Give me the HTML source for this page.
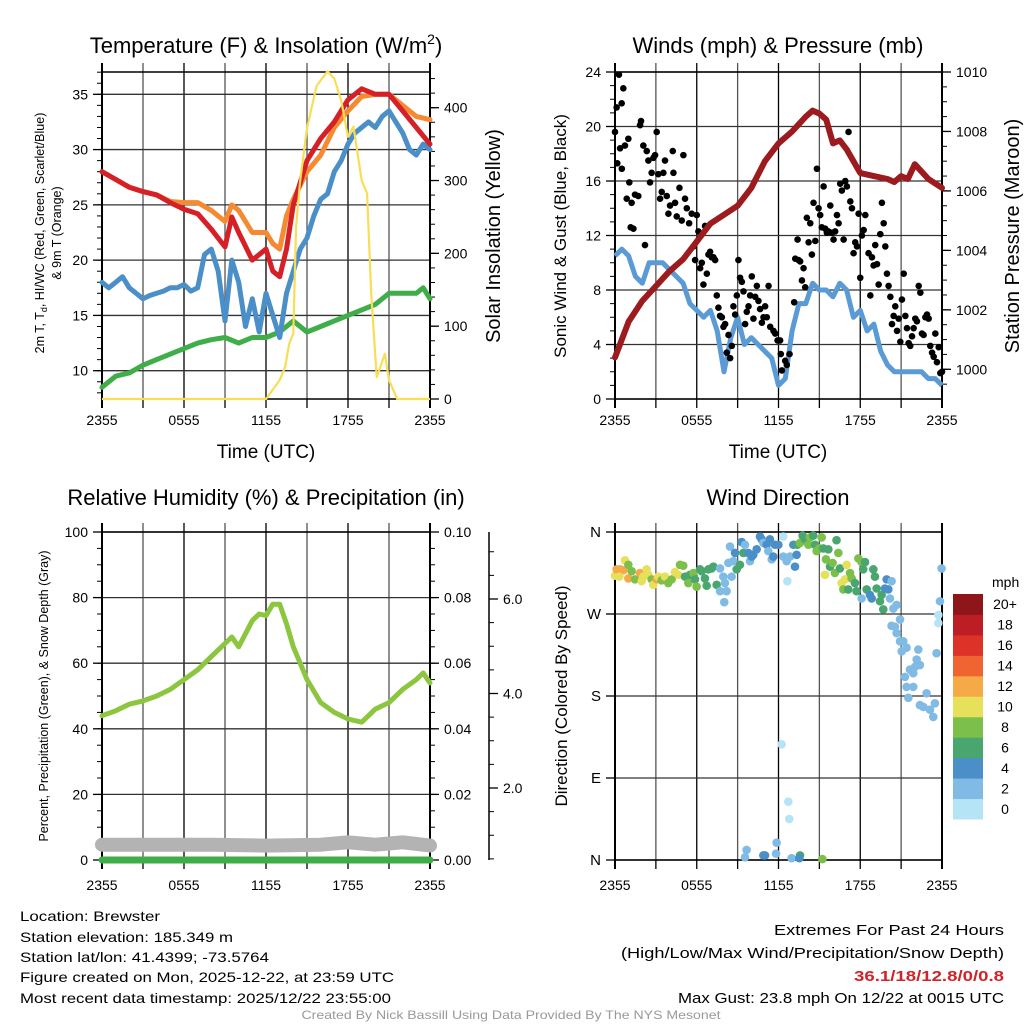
<!DOCTYPE html>
<html><head><meta charset="utf-8"><style>
html,body{margin:0;padding:0;background:#fff}
svg{display:block;font-family:"Liberation Sans",sans-serif}
</style></head><body>
<svg id="c" width="1024" height="1024" viewBox="0 0 1024 1024" xmlns="http://www.w3.org/2000/svg">
<g id="static">
<text x="266" y="53" font-size="22" text-anchor="middle">Temperature (F) &amp; Insolation (W/m<tspan dy="-9" font-size="14">2</tspan><tspan dy="9">)</tspan></text>
<text x="778" y="53" font-size="22" text-anchor="middle">Winds (mph) &amp; Pressure (mb)</text>
<text x="266" y="505" font-size="22" text-anchor="middle">Relative Humidity (%) &amp; Precipitation (in)</text>
<text x="778" y="505" font-size="22" text-anchor="middle">Wind Direction</text>
<text x="266" y="458" font-size="19" text-anchor="middle">Time (UTC)</text>
<text x="778" y="458" font-size="19" text-anchor="middle">Time (UTC)</text>
<text transform="translate(44,233) rotate(-90)" font-size="12.5" text-anchor="middle">2m T, T<tspan font-size="9" dy="3">d</tspan><tspan dy="-3">, HI/WC (Red, Green, Scarlet/Blue)</tspan></text>
<text transform="translate(61,233) rotate(-90)" font-size="12.5" text-anchor="middle">&amp; 9m T (Orange)</text>
<text transform="translate(500,236) rotate(-90)" font-size="20" text-anchor="middle">Solar Insolation (Yellow)</text>
<text transform="translate(566,236) rotate(-90)" font-size="17" text-anchor="middle">Sonic Wind &amp; Gust (Blue, Black)</text>
<text transform="translate(1019,236) rotate(-90)" font-size="20" text-anchor="middle">Station Pressure (Maroon)</text>
<text transform="translate(48,696) rotate(-90)" font-size="12.5" text-anchor="middle">Percent, Precipitation (Green), &amp; Snow Depth (Gray)</text>
<text transform="translate(567,696) rotate(-90)" font-size="17" text-anchor="middle">Direction (Colored By Speed)</text>
<g font-size="14">
<text x="20" y="921" textLength="140" lengthAdjust="spacingAndGlyphs">Location: Brewster</text>
<text x="20" y="942" textLength="213" lengthAdjust="spacingAndGlyphs">Station elevation: 185.349 m</text>
<text x="20" y="962" textLength="249" lengthAdjust="spacingAndGlyphs">Station lat/lon: 41.4399; -73.5764</text>
<text x="20" y="982" textLength="374" lengthAdjust="spacingAndGlyphs">Figure created on Mon, 2025-12-22, at 23:59 UTC</text>
<text x="20" y="1003" textLength="371" lengthAdjust="spacingAndGlyphs">Most recent data timestamp: 2025/12/22 23:55:00</text>
</g>
<g font-size="15" text-anchor="end">
<text x="1004" y="935" textLength="230" lengthAdjust="spacingAndGlyphs">Extremes For Past 24 Hours</text>
<text x="1004" y="958" textLength="383" lengthAdjust="spacingAndGlyphs">(High/Low/Max Wind/Precipitation/Snow Depth)</text>
<text x="1004" y="981" fill="#d1232a" font-weight="bold" textLength="150" lengthAdjust="spacingAndGlyphs">36.1/18/12.8/0/0.8</text>
<text x="1004" y="1003" textLength="326" lengthAdjust="spacingAndGlyphs">Max Gust: 23.8 mph On 12/22 at 0015 UTC</text>
</g>
<text x="511" y="1019" font-size="12" fill="#999" text-anchor="middle" textLength="419" lengthAdjust="spacingAndGlyphs">Created By Nick Bassill Using Data Provided By The NYS Mesonet</text>
</g>
</svg>
<script>
// ---------- DATA ----------
const hrTicks = ["2355","0555","1155","1755","2355"];
// Panel 1
const tH = [0,1,2,3,4,5,6,7,8,9,9.5,10,11,12,12.5,13,13.5,14,15,16,17,18,19,20,21,22,23,24];
const tempT = [28,27.3,26.6,26.2,25.9,25.2,24.6,24.2,22.8,21.2,23.9,22.5,20,21,19,18.5,21,25,29,31,32.5,34.5,35.5,35,35,33.5,32,30.5];
const temp9m = [28,27.3,26.6,26.2,25.9,25.3,25.2,25.2,24.5,23.5,25,24.5,22.5,22.5,21.5,21,24,25.5,28,29.5,32,33.5,34.8,35,35,34,33,32.7];
const wcH = [0,0.5,1,1.5,2,2.5,3,3.5,4,4.5,5,5.5,6,6.5,7,7.5,8,8.5,9,9.5,10,10.5,11,11.5,12,12.5,13,13.5,14,14.5,15,15.5,16,16.5,17,17.5,18,18.5,19,19.5,20,20.5,21,21.5,22,22.5,23,23.5,24];
const windChill = [18,17.5,18,18.5,17.5,17,16.5,16.8,17,17.2,17.5,17.5,17.8,17.2,17.5,20.5,21,19,14.5,20,18,14,16.5,13.5,17,15,13,17,19,21,22,24,25.5,26,28,29,30.5,31.5,32,32.5,32,33,33.5,32.5,31.5,30,29.5,30.5,30];
const tdH = [0,1,2,3,4,5,6,7,8,9,10,11,12,13,14,15,16,17,18,19,20,21,22,23,23.5,24];
const dewPoint = [8.5,9.5,9.8,10.5,11,11.5,12,12.5,12.8,13,12.5,13,13,13.5,14.5,13.5,14,14.5,15,15.5,16,17,17,17,17.5,16.5];
const solH = [0,12,13,13.4,13.7,14,14.2,14.5,15,15.7,16.5,17,17.5,18,18.4,19,19.4,19.7,20.1,20.7,21,21.6,24];
const solar = [0,0,26,44,76,90,237,300,372,430,450,440,410,360,374,300,282,145,30,62,26,0,0];
const tempTicks = [10,15,20,25,30,35];
const solTicks = [0,100,200,300,400];
// Panel 2
const pH = [0,1,2,3,4,5,6,7,8,9,10,11,12,13,14,14.5,15,15.5,16,16.5,17,18,19,20,20.5,21,21.5,22,23,24];
const pressure = [1000.4,1001.6,1002.3,1002.8,1003.3,1003.7,1004.3,1004.9,1005.2,1005.5,1006.1,1007.0,1007.6,1008.0,1008.5,1008.7,1008.6,1008.4,1007.6,1007.7,1007.4,1006.6,1006.5,1006.4,1006.3,1006.5,1006.4,1006.9,1006.4,1006.1];
const windSpeed = [10.5,11,10.5,9,8.5,10,10,10,9.5,9,8.5,7,6.5,6,6.5,5,2,4.5,6,4,4.5,4,3.5,3,1,1.5,5,7,7,8.5,8,8,7.5,8.5,8,6,6.5,5,5.5,3.5,2.5,2,2,2,2,2,1.5,1.5,1];
const gustH = [0,0.12,0.29,0.49,0.61,0.17,0.37,0.5,0.73,0.86,0.98,1.05,1.15,1.35,1.22,1.47,1.71,1.84,1.91,2.08,2.2,2.33,2.45,2.57,2.69,2.82,2.94,3.06,3.18,3.31,3.43,3.55,3.67,3.8,3.92,4.04,4.24,4.29,4.41,4.53,4.73,4.9,5.02,5.14,5.27,5.44,5.63,5.76,5.88,6,6.12,6.25,6.37,6.49,6.61,6.74,6.86,6.98,7.1,7.23,7.35,7.47,7.59,7.71,7.84,7.96,8.08,8.2,8.33,8.45,8.57,8.69,8.82,8.94,9.06,9.18,9.31,9.43,9.55,9.67,9.8,9.92,10.04,10.16,10.29,10.41,10.53,10.65,10.78,10.9,11.02,11.14,11.27,11.39,11.63,11.76,11.93,12.12,12.17,12.25,12.49,12.61,12.81,13.15,13.23,13.4,13.47,13.59,13.72,13.84,13.96,14.08,14.21,14.33,14.45,14.57,14.7,14.82,14.94,15.06,15.18,15.31,15.43,15.55,15.67,15.8,15.92,16.04,16.16,16.29,16.41,16.53,16.65,16.78,16.9,17.02,17.14,17.27,17.39,17.51,17.63,17.76,17.88,18,18.12,18.25,18.37,18.61,18.74,18.86,18.98,19.1,19.23,19.35,19.47,19.59,19.72,19.84,19.96,20.08,20.21,20.33,20.45,20.57,20.7,20.82,20.94,21.06,21.19,21.31,21.43,21.55,21.67,21.8,21.92,22.04,22.16,22.29,22.41,22.53,22.65,22.78,22.9,23.02,23.14,23.27,23.39,23.51,23.63,23.76,23.88,24];
const gustV = [19.6,21.4,23.8,21.7,22.8,17.3,18.4,16.9,18.6,14.7,19.1,15.9,12.6,12.5,14.4,15,14.9,20.1,20.4,18.6,11.3,18.2,17.5,15.9,16.6,17.7,17.9,19.6,16.5,14.7,15.2,16.6,17.5,14.9,13.6,14.2,18.2,16.6,14.4,13.4,15.5,13.1,17.9,14.7,14,12.9,13.6,11.2,10.2,13.5,12.3,9.6,10,8.4,12.7,9.2,10.6,10.8,10.4,10.4,10.2,7.6,6.7,6.1,6,5.3,5.5,3.4,4.7,3,3.9,6.8,6.2,7.6,10.2,8.9,8.6,7.9,5.5,6.4,6.8,7.6,9,5.9,7.5,8.3,7.2,6.6,5.6,6,6.8,6,8.3,5.3,5,4.8,4.3,4.3,3.3,2.1,2.8,2.5,3.3,7.1,10.3,11.7,10.2,10.1,8.7,9.6,8.2,13.3,11.5,12.9,10.6,14.4,11.6,16.9,14,13.5,12.6,15.6,12.5,12.2,12.3,14.2,12.2,11.7,12.3,13.5,12.9,15.8,15.3,11.7,16,15.6,19.6,14.5,14,10.7,11.5,11.2,13.6,8.9,12,12.4,13.5,10.7,7.6,10.4,9.8,11.3,9.9,8.4,12.1,14.4,12.9,11.2,9.2,8.3,7.5,5.5,6.1,6.8,5,5.9,4.2,7.3,9.2,6.1,5.2,4.1,3.9,4.6,5.2,5.9,5.7,8.3,7.8,4.8,4.7,6,6.2,5.9,3.9,3.4,3.1,4.8,2.7,3.8,1.9,2];
const windTicks = [0,4,8,12,16,20,24];
const presTicks = [1000,1002,1004,1006,1008,1010];
// Panel 3
const rhH = [0,1,2,3,4,5,6,7,8,9,9.5,10,10.5,11,11.5,12,12.5,13,13.5,14,14.5,15,16,17,18,19,19.5,20,21,22,23,23.5,24];
const relHum = [44,45.5,47.5,48.5,50,52,55,58,62,66,68,65,69,73,75,74.5,78,78,72,65,60,55,48,45,43,42,44,46,48,52,55,57,54];
const precipH = [0,24];
const precip = [0,0];
const snowH = [0,4,8,12,16,18,20,22,24];
const snowDepth = [0.8,0.8,0.8,0.78,0.8,0.85,0.8,0.85,0.78];
const rhTicks = [0,20,40,60,80,100];
const prTicks = ["0.00","0.02","0.04","0.06","0.08","0.10"];
const snowTicks = [2,4,6];
// Panel 4
const wdH = [0,0.12,0.37,0.61,0.32,0.73,0.98,0.98,1.22,1.47,1.83,1.96,2.08,2.32,2.45,2.69,2.81,3.06,3.18,3.42,3.67,3.91,4.16,4.40,4.65,4.77,5.01,5.14,5.38,5.50,5.75,5.87,5.99,6.24,6.36,6.60,6.73,6.85,7.09,7.22,7.46,7.71,7.95,8.07,7.71,8.19,8.02,8.32,8.44,8.56,8.68,8.81,8.93,9.17,9.30,9.42,9.54,9.78,9.91,10.03,10.15,10.40,10.64,10.76,10.89,11.13,11.25,11.37,11.50,11.62,11.74,11.99,12.35,12.35,12.60,12.65,12.84,13.09,13.21,13.33,13.38,13.58,13.77,13.94,14.19,14.31,14.55,14.68,14.80,14.99,15.17,15.29,15.41,15.48,15.66,15.78,15.97,16.14,16.26,16.39,16.51,16.63,16.76,16.88,17.00,17.12,17.25,17.37,17.61,17.73,17.86,18.10,18.10,18.22,18.35,18.47,18.71,18.84,18.96,19.08,19.20,19.45,19.57,19.69,19.81,19.94,20.06,20.18,20.30,20.43,20.67,20.30,20.55,20.92,20.67,20.92,21.04,21.16,21.40,21.28,21.40,21.53,21.65,21.89,22.02,22.14,22.26,22.38,21.89,22.38,22.63,22.87,23.12,23.36,23.48,23.60,23.73,23.85,23.97,23.73,12.23,12.72,12.79,9.66,9.54,10.89,11.01,11.86,11.82,12.96,13.58,13.53,15.22];
const wdDir = [312,319,319,318,311,329,324,309,317,308,315,306,311,319,313,308,302,308,311,307,311,304,308,316,313,324,323,311,304,313,315,308,300,319,317,309,301,319,320,322,302,320,311,304,295,295,283,326,344,311,328,337,319,324,349,337,346,337,328,333,335,341,355,352,348,346,339,352,330,333,346,346,355,333,328,306,333,346,322,335,346,348,356,352,346,354,356,346,339,342,354,342,313,330,341,322,326,315,351,337,320,304,297,308,324,297,315,309,304,295,331,327,287,319,327,297,291,287,319,311,298,284,291,275,298,308,297,287,306,276,280,257,256,264,249,240,229,240,233,201,190,178,209,205,212,220,231,214,190,170,168,183,165,157,172,227,269,284,320,260,127,64,45,11,3,5,5,19,7,2,5,2,1];
const wdSpd = [11,13,13,13,11,11,9,13,9,9,13,11,11,11,11,9,11,13,11,9,11,9,9,11,11,9,9,7,9,7,9,7,9,7,7,7,7,7,7,7,7,3,3,3,3,3,3,3,3,3,3,5,7,7,5,7,3,5,3,5,5,5,5,5,3,5,3,5,3,5,5,5,1,3,3,1,3,5,5,5,7,9,7,7,9,9,7,7,9,9,9,7,11,9,7,7,9,9,7,9,7,11,9,11,11,7,9,9,7,7,9,9,3,7,7,7,5,5,7,7,7,7,7,7,5,5,5,3,3,3,3,3,3,3,3,3,3,3,3,3,3,3,3,3,3,3,3,3,3,3,3,3,3,3,3,3,1,3,3,1,1,1,1,3,3,5,5,3,3,3,7,5,9];
const dirTicks = ["N","E","S","W","N"];
const cbLabels = ["0","2","4","6","8","10","12","14","16","18","20+"];
const cbColors = ["#b5e4f7","#80bbe6","#4a8fc7","#49a66e","#7cc04b","#e6e05b","#f6a947","#ef6430","#dd3227","#bd1d25","#8e1619"];

// ---------- DRAW ----------
const NS="http://www.w3.org/2000/svg";
const svg=document.getElementById('c');
function mk(tag,attrs,parent){const e=document.createElementNS(NS,tag);for(const k in attrs)e.setAttribute(k,attrs[k]);(parent||svg).appendChild(e);return e;}
function lin(d0,d1,r0,r1){return v=>r0+(v-d0)*(r1-r0)/(d1-d0);}
function pathOf(xs,ys,fx,fy){return xs.map((h,i)=>(i?'L':'M')+fx(h).toFixed(1)+','+fy(ys[i]).toFixed(1)).join('');}

function frame(g,x0,x1,y0,y1,fx,yMajors,xlabY){
  // vertical grid every 3 h
  for(let h=3;h<24;h+=3){const l=mk('line',{x1:fx(h),x2:fx(h),y1:y0-9,y2:y1,stroke:(h%6==0)?'#000':'#555','stroke-width':1.3},g);
    
    }
  yMajors.forEach(y=>{const l=mk('line',{x1:x0,x2:x1,y1:y,y2:y,stroke:'#333','stroke-width':1.3},g);
    
    });
  for(let h=0;h<=24;h+=3){mk('line',{x1:fx(h),x2:fx(h),y1:y1,y2:y1+9,stroke:'#000','stroke-width':1.3},g);}
  mk('line',{x1:x0,x2:x1,y1:y0,y2:y0,stroke:'#000','stroke-width':1.5},g);
  mk('line',{x1:x0,x2:x1,y1:y1,y2:y1,stroke:'#000','stroke-width':1.5},g);
  mk('line',{x1:x0,x2:x0,y1:y0-9,y2:y1+9,stroke:'#000','stroke-width':2},g);
  mk('line',{x1:x1,x2:x1,y1:y0-9,y2:y1+9,stroke:'#000','stroke-width':2},g);
  hrTicks.forEach((t,i)=>{const tx=mk('text',{x:fx(i*6),y:xlabY,'font-size':14,'text-anchor':'middle'},g);tx.textContent=t;
    
    });
}
function yAxisTicks(g,x,side,fy,majors,minors,labels,fs){
  majors.forEach((v,i)=>{mk('line',{x1:x,x2:x+side*9,y1:fy(v),y2:fy(v),stroke:'#000','stroke-width':1.3},g);
    const t=mk('text',{x:x+side*14,y:fy(v)+5,'font-size':fs||14,'text-anchor':side<0?'end':'start'},g);t.textContent=labels[i];
    
    });
  minors.forEach(v=>mk('line',{x1:x,x2:x+side*5,y1:fy(v),y2:fy(v),stroke:'#000','stroke-width':1},g));
}
function range(a,b,s){const r=[];for(let v=a;v<=b+1e-9;v+=s)r.push(+v.toFixed(4));return r;}

// Panel 1
{
const g=mk('g',{});
const X0=102,X1=430,Y0=72,Y1=399;
const fx=lin(0,24,X0,X1), fy=lin(10,35,370.7,94.3), fs=lin(0,400,399,107.7);
frame(g,X0,X1,Y0,Y1,fx,tempTicks.map(fy),425);
yAxisTicks(g,X0,-1,fy,tempTicks,range(8,37,1),tempTicks.map(String));
yAxisTicks(g,X1,1,fs,solTicks,range(20,440,20),solTicks.map(String));
const lines=[[tdH,dewPoint,'#3fae49','dewpoint-line'],[wcH,windChill,'#4a8fc8','wind-chill-line'],[tH,temp9m,'#f58a33','temp-9m-line'],[tH,tempT,'#d62027','temp-2m-line']];
lines.forEach(([xs,ys,c,n])=>{const p=mk('path',{d:pathOf(xs,ys,fx,fy),fill:'none',stroke:c,'stroke-width':5,'stroke-linejoin':'round','stroke-linecap':'round'},g);
  
  });
const p=mk('path',{d:pathOf(solH,solar,fx,fs),fill:'none',stroke:'#f8dd55','stroke-width':2.2,'stroke-linejoin':'round'},g);


}
// Panel 2
{
const g=mk('g',{});
const X0=615,X1=942,Y0=72,Y1=399;
const fx=lin(0,24,X0,X1), fy=lin(0,24,399,72), fp=lin(1000,1010,369.3,72);
frame(g,X0,X1,Y0,Y1,fx,windTicks.map(fy),425);
yAxisTicks(g,X0,-1,fy,windTicks,range(1,24,1),windTicks.map(String));
yAxisTicks(g,X1,1,fp,presTicks,range(999.5,1010,0.5),presTicks.map(String));
const wh=windSpeed.map((v,i)=>i*0.5);
const b=mk('path',{d:pathOf(wh,windSpeed,fx,fy),fill:'none',stroke:'#5b9bd5','stroke-width':5,'stroke-linejoin':'round'},g);


gustH.forEach((h,i)=>{const c=mk('circle',{cx:fx(h),cy:fy(gustV[i]),r:3.3,fill:'#000'},g);
  
  });
const p=mk('path',{d:pathOf(pH,pressure,fx,fp),fill:'none',stroke:'#9b1b1e','stroke-width':6,'stroke-linejoin':'round','stroke-linecap':'round'},g);


}
// Panel 3
{
const g=mk('g',{});
const X0=102,X1=430,Y0=532,Y1=860;
const fx=lin(0,24,X0,X1), fy=lin(0,100,860,532), fsn=lin(2,6,788,599);
frame(g,X0,X1,Y0,Y1,fx,rhTicks.map(fy),890);
yAxisTicks(g,X0,-1,fy,rhTicks,range(5,95,5),rhTicks.map(String));
yAxisTicks(g,X1,1,fy,rhTicks,range(5,95,5),prTicks);
mk('line',{x1:489,x2:489,y1:532,y2:860,stroke:'#000','stroke-width':1.5},g);
yAxisTicks(g,489,1,fsn,snowTicks,[0.5,1,1.5,2.5,3,3.5,4.5,5,5.5,6.5,7],snowTicks.map(v=>v.toFixed(1)));
const s=mk('path',{d:pathOf(snowH,snowDepth,fx,fsn),fill:'none',stroke:'#b3b3b3','stroke-width':14,'stroke-linejoin':'round','stroke-linecap':'round'},g);


const pr=mk('path',{d:pathOf(precipH,precip,fx,v=>fy(v*1000)),fill:'none',stroke:'#3fae49','stroke-width':7,'stroke-linecap':'round'},g);


const p=mk('path',{d:pathOf(rhH,relHum,fx,fy),fill:'none',stroke:'#8cc63f','stroke-width':5,'stroke-linejoin':'round','stroke-linecap':'round'},g);


}
// Panel 4
{
const g=mk('g',{});
const X0=615,X1=942,Y0=532,Y1=860;
const fx=lin(0,24,X0,X1), fy=lin(0,360,860,532);
const dv=[0,90,180,270,360];
frame(g,X0,X1,Y0,Y1,fx,dv.map(fy),890);
yAxisTicks(g,X0,-1,fy,dv,[],dirTicks,15);
const colOf=s=>cbColors[Math.min(10,Math.max(0,Math.floor(s/2)))];
wdH.forEach((h,i)=>{const c=mk('circle',{cx:fx(h),cy:fy(wdDir[i]),r:4.3,fill:colOf(wdSpd[i])},g);
  
  });
// colorbar
const cb=mk('g',{},g);
const t=mk('text',{x:992,y:587,'font-size':14},cb);t.textContent='mph';
const bh=(819-594)/11;
cbColors.forEach((c,i)=>{const y=819-(i+1)*bh;
  const r=mk('rect',{x:953,y:y,width:30,height:bh+0.5,fill:c},cb);
  
  
  const l=mk('text',{x:1005,y:y+bh/2+5,'font-size':14,'text-anchor':'middle'},cb);l.textContent=cbLabels[i];
  
  });
}
</script>
</body></html>
